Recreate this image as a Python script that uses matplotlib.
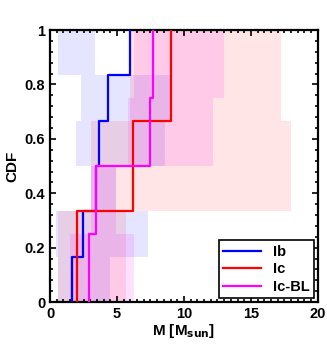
import numpy as np
import matplotlib
matplotlib.use('Agg')
import matplotlib.pyplot as plt
from matplotlib.ticker import MultipleLocator

plt.rcParams['font.family'] = ['Liberation Sans', 'DejaVu Sans']
plt.rcParams['font.weight'] = 'bold'
plt.rcParams['mathtext.default'] = 'bf'

# masses (sorted) and the lower / upper ends of each shaded band
ib_mass = [1.64, 2.49, 3.46, 3.66, 4.35, 5.95]
ib_lo = [0.6, 0.47, 3.08, 1.96, 2.34, 0.6]
ib_hi = [4.45, 7.3, 4.95, 8.56, 9.0, 3.33]

ic_mass = [1.99, 6.22, 9.0]
ic_lo = [0.6, 3.08, 6.0]
ic_hi = [5.7, 18.0, 17.26]

icbl_mass = [2.89, 3.46, 7.44, 7.69]
icbl_lo = [1.47, 3.08, 5.82, 6.3]
icbl_hi = [6.27, 4.95, 12.16, 13.0]

yticks = [0, 0.2, 0.4, 0.6, 0.8, 1]
ytick_labels = ['0', '0.2', '0.4', '0.6', '0.8', '1']
xticks = [0, 5, 10, 15, 20]

groups = [
    ('Ib', ib_mass, ib_lo, ib_hi, 'blue', 0.1),
    ('Ic', ic_mass, ic_lo, ic_hi, 'red', 0.1),
    ('Ic-BL', icbl_mass, icbl_lo, icbl_hi, 'magenta', 0.12),
]

fig = plt.figure(figsize=(3.27, 3.5), dpi=100)
ax = fig.add_axes([0.153, 0.137, 0.819, 0.777])

# shaded bands first
for name, m, lo, hi, col, a in groups:
    n = len(m)
    F = np.arange(1, n + 1) / n
    for i in range(n):
        ax.fill_between([lo[i], hi[i]], F[i] - 1.0 / n, F[i],
                        color=col, alpha=a, linewidth=0, zorder=1)

# CDF steps
for name, m, lo, hi, col, a in groups:
    m = np.array(m)
    F = np.arange(1, len(m) + 1) / len(m)
    ax.step(np.r_[m[0], m], np.r_[0, F], where='post', color=col,
            linewidth=1.6, label=name, zorder=3)

ax.set_xlim(0, 20)
ax.set_ylim(0, 1)
ax.set_xticks(xticks)
ax.set_xticklabels([str(t) for t in xticks])
ax.set_yticks(yticks)
ax.set_yticklabels(ytick_labels)
ax.xaxis.set_minor_locator(MultipleLocator(0.5))
ax.yaxis.set_minor_locator(MultipleLocator(0.04))
ax.tick_params(which='both', direction='in', top=True, right=True,
               labelsize=10.5, width=1.2)
ax.tick_params(which='major', length=4)
ax.tick_params(which='minor', length=2)
for s in ax.spines.values():
    s.set_linewidth(1.6)

ax.set_xlabel('M [M$_{sun}$]', fontsize=11, fontweight='bold', labelpad=1)
ax.set_ylabel('CDF', fontsize=11, fontweight='bold', labelpad=4)

leg = ax.legend(loc='lower right', fontsize=10.5, frameon=True, fancybox=False,
                edgecolor='black', framealpha=1, borderaxespad=0.25,
                handlelength=2.6, borderpad=0.3, labelspacing=0.25)
leg.get_frame().set_linewidth(1.2)

fig.savefig('out.png', dpi=100)
